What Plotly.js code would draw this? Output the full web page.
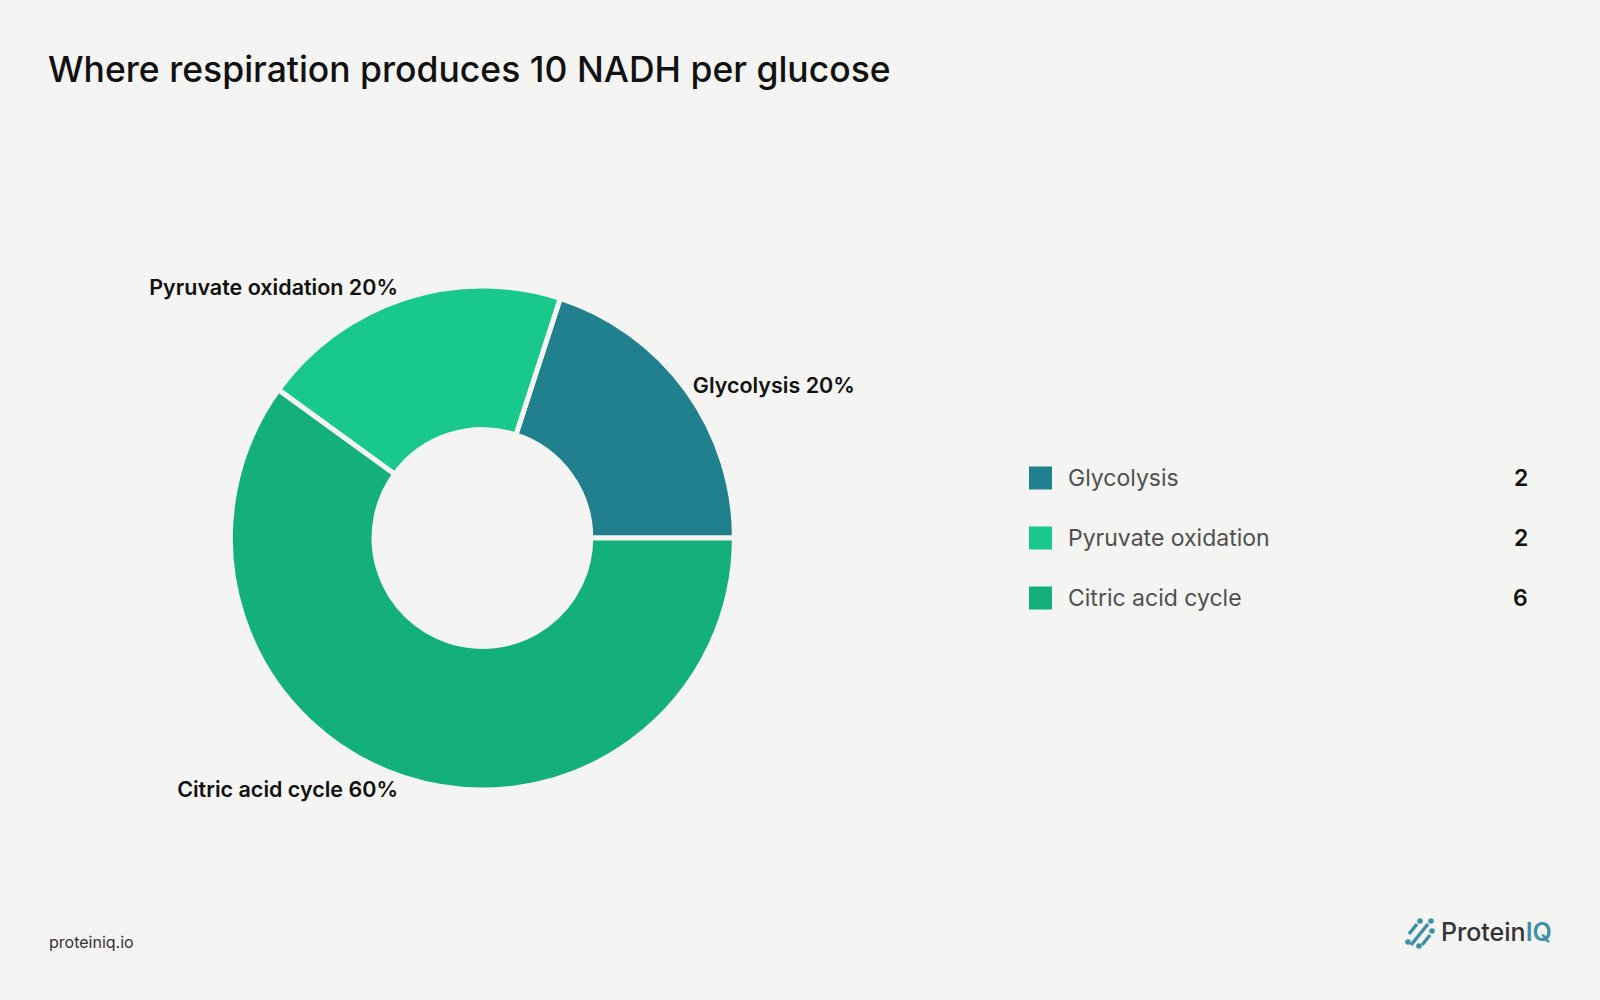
<!DOCTYPE html>
<html>
<head>
<meta charset="utf-8">
<script src="https://cdn.plot.ly/plotly-3.0.1.min.js"></script>
<style>
html,body{margin:0;padding:0;background:#f4f4f2;}
#chart{width:1600px;height:1000px;}
</style>
</head>
<body>
<div id="chart"></div>
<script>
// ---- data ----
const labels = ["Glycolysis", "Pyruvate oxidation", "Citric acid cycle"];
const values = [2, 2, 6];
const colors = ["#21808D", "#18C98B", "#14B07B"];
const titleText = "Where respiration produces 10 NADH per glucose";
const sourceText = "proteiniq.io";

const BG = "#f4f4f2";
const FONT = "Inter, 'Noto Sans', sans-serif";

const pie = {
  type: "pie",
  labels: labels,
  values: values,
  sort: false,
  direction: "counterclockwise",
  rotation: 18,
  hole: 0.43,
  marker: { colors: colors, line: { color: BG, width: 5 } },
  textposition: "outside",
  texttemplate: "%{label} %{percent}",
  textfont: { family: FONT, size: 21.5, color: "#111111", weight: 600 },
  outsidetextfont: { family: FONT, size: 21.5, color: "#111111", weight: 600 },
  automargin: false,
  domain: { x: [0.144, 0.459], y: [0.21, 0.714] },
  hoverinfo: "none",
  showlegend: false
};

// custom legend built from the data arrays
const annotations = [];
const shapes = [];
const legX0 = 1029, legTop = 478, legStep = 60, sw = 23, valX = 1530;
labels.forEach((lab, i) => {
  const y = legTop + i * legStep;
  shapes.push({
    type: "rect", xref: "paper", yref: "paper",
    x0: legX0 / 1600, x1: (legX0 + sw) / 1600,
    y0: 1 - (y + sw / 2) / 1000, y1: 1 - (y - sw / 2) / 1000,
    fillcolor: colors[i], line: { width: 0 }
  });
  annotations.push({
    xref: "paper", yref: "paper", x: 1066 / 1600, y: 1 - y / 1000,
    xanchor: "left", yanchor: "middle", showarrow: false,
    text: lab, font: { family: FONT, size: 23, color: "#505050" }
  });
  annotations.push({
    xref: "paper", yref: "paper", x: valX / 1600, y: 1 - y / 1000,
    xanchor: "right", yanchor: "middle", showarrow: false,
    text: String(values[i]), font: { family: FONT, size: 23, color: "#111111", weight: 600 }
  });
});

// footer
annotations.push({
  xref: "paper", yref: "paper", x: 47 / 1600, y: 1 - 942 / 1000,
  xanchor: "left", yanchor: "middle", showarrow: false,
  text: sourceText, font: { family: FONT, size: 16, color: "#333333" }
});
annotations.push({
  xref: "paper", yref: "paper", x: 1554 / 1600, y: 1 - 932 / 1000,
  xanchor: "right", yanchor: "middle", showarrow: false,
  text: "<span style='font-weight:500'>Protein</span><span style='color:#3e8fa8;font-weight:600'>IQ</span>",
  font: { family: FONT, size: 25, color: "#333333" }
});
// logo icon strokes
const iconSegs = [[1409, 934, 1417, 924], [1411, 945, 1428, 924], [1422, 945, 1430, 935]];
iconSegs.forEach(s => {
  shapes.push({
    type: "line", xref: "paper", yref: "paper",
    x0: s[0] / 1600, y0: 1 - s[1] / 1000, x1: s[2] / 1600, y1: 1 - s[3] / 1000,
    line: { color: "#3e8fa8", width: 3.5 }
  });
});
const iconDots = [[1420, 921], [1431, 921], [1408, 942], [1419, 946], [1432, 931]];
iconDots.forEach(d => {
  shapes.push({
    type: "circle", xref: "paper", yref: "paper",
    x0: (d[0] - 2.8) / 1600, x1: (d[0] + 2.8) / 1600,
    y0: 1 - (d[1] + 2.8) / 1000, y1: 1 - (d[1] - 2.8) / 1000,
    fillcolor: "#3e8fa8", line: { width: 0 }
  });
});

const layout = {
  width: 1600, height: 1000,
  paper_bgcolor: BG, plot_bgcolor: BG,
  margin: { l: 0, r: 0, t: 0, b: 0 },
  showlegend: false,
  title: {
    text: titleText, x: 48 / 1600, xanchor: "left", xref: "paper",
    y: 1 - 70 / 1000, yanchor: "middle", yref: "paper",
    font: { family: FONT, size: 35.5, color: "#111111", weight: 500 }
  },
  annotations: annotations,
  shapes: shapes
};

Plotly.newPlot("chart", [pie], layout, { displayModeBar: false, staticPlot: true });
</script>
</body>
</html>
